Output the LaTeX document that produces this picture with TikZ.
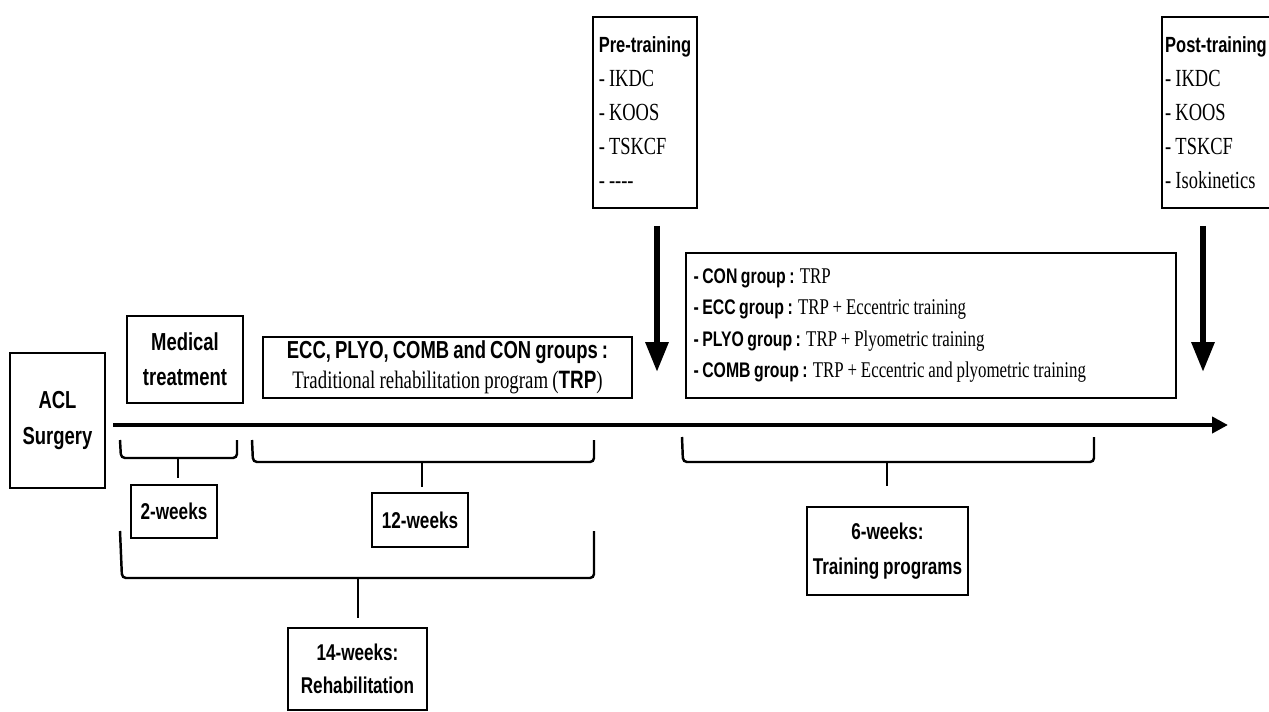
\documentclass[tikz,border=0pt]{standalone}
\usepackage{fontspec}
\setmainfont[FakeStretch=0.75,WordSpace=0.9]{Liberation Serif}
\setsansfont[FakeStretch=0.75,WordSpace=0.8]{Liberation Sans}
\usetikzlibrary{calc,positioning,arrows.meta}

\newcommand{\hd}[1]{{\sffamily\bfseries #1}}

\begin{document}
\begin{tikzpicture}[x=0.02cm,y=-0.02cm,
    box/.style={draw,line width=1.1pt,inner sep=2pt,align=center},
    bracket/.style={line width=1.4pt,rounded corners=0.08cm},
    timeline/.style={line width=2.8pt,-{Triangle[length=9pt,width=9pt]}},
    drop/.style={line width=3.4pt,-{Triangle[length=17pt,width=12.5pt]}}]

    \useasboundingbox (0,0) rectangle (1269,711);

    %Boites du haut
    \node[box,minimum width=1.9cm,minimum height=2.7cm,font=\sffamily\bfseries\fontsize{14}{20}\selectfont] (surgery) at (57.5,420.5) {ACL\\Surgery};
    \node[box,minimum width=2.32cm,minimum height=1.74cm,font=\sffamily\bfseries\fontsize{14}{20}\selectfont] (medical) at (185,359.5) {Medical\\treatment};
    \node[box,minimum width=7.38cm,minimum height=1.22cm,font=\fontsize{14.3}{17}\selectfont] (rehab) at (447.5,367.5) {\hd{\fontsize{14}{17}\selectfont ECC, PLYO, COMB and CON groups :}\\Traditional rehabilitation program (\hd{TRP})};
    \node[box,minimum width=2.08cm,minimum height=3.82cm,align=left,font=\fontsize{14}{19.3}\selectfont] (pre) at (645,112.5) {\hd{\fontsize{12.5}{19.3}\selectfont Pre-training}\\- IKDC\\- KOOS\\- TSKCF\\- -{}-{}-{}-};
    \node[box,minimum width=2.1cm,minimum height=3.82cm,align=left,font=\fontsize{14}{19.3}\selectfont] (post) at (1216,112.5) {\hd{\fontsize{12.5}{19.3}\selectfont Post-training}\\- IKDC\\- KOOS\\- TSKCF\\- Isokinetics};
    \node[box,minimum width=9.8cm,minimum height=2.9cm,text width=9.5cm,align=flush left,font=\fontsize{12.8}{18}\selectfont] (groups) at (931,325.5) {%
        \hd{\fontsize{12}{18}\selectfont - CON group :} TRP\\
        \hd{\fontsize{12}{18}\selectfont - ECC group :} TRP + Eccentric training\\
        \hd{\fontsize{12}{18}\selectfont - PLYO group :} TRP + Plyometric training\\
        \hd{\fontsize{12}{18}\selectfont - COMB group :} TRP + Eccentric and plyometric training};

    %Ligne du temps
    \coordinate (start) at (113,425);
    \coordinate (end) at (1228,425);
    \draw[timeline] (start) -- (end);

    %Fleches
    \coordinate (pretip) at (657,372);
    \coordinate (posttip) at (1203,372);
    \draw[drop] ($(pre.south -| pretip)+(0,17)$) -- (pretip);
    \draw[drop] ($(post.south -| posttip)+(0,17)$) -- (posttip);

    %Durees
    \node[box,minimum width=1.72cm,minimum height=1.06cm,font=\sffamily\bfseries\fontsize{13}{19}\selectfont] (w2) at (174,511.5) {2-weeks};
    \node[box,minimum width=1.92cm,minimum height=1.08cm,font=\sffamily\bfseries\fontsize{13}{19}\selectfont] (w12) at (420,520) {12-weeks};
    \node[box,minimum width=2.78cm,minimum height=1.64cm,font=\sffamily\bfseries\fontsize{13}{19}\selectfont] (w14) at (357.5,669) {14-weeks:\\Rehabilitation};
    \node[box,minimum width=3.22cm,minimum height=1.76cm,font=\sffamily\bfseries\fontsize{13}{20}\selectfont] (w6) at (887.5,551) {6-weeks:\\Training programs};

    %Accolades
    \draw[bracket] (120,440) -- (121,458) -- (237,458) -- (237,440);
    \draw[bracket] (178,458) -- (178,478);
    \draw[bracket] (252,440) -- (253,462) -- (594,462) -- (594,440);
    \draw[bracket] (422,462) -- (422,487);
    \draw[bracket] (120,531) -- (122,578) -- (594,578) -- (594,531);
    \draw[bracket] (358,578) -- (358,618);
    \draw[bracket] (682,437) -- (683,462) -- (1094,462) -- (1094,437);
    \draw[bracket] (887,462) -- (887,486);

\end{tikzpicture}
\end{document}
